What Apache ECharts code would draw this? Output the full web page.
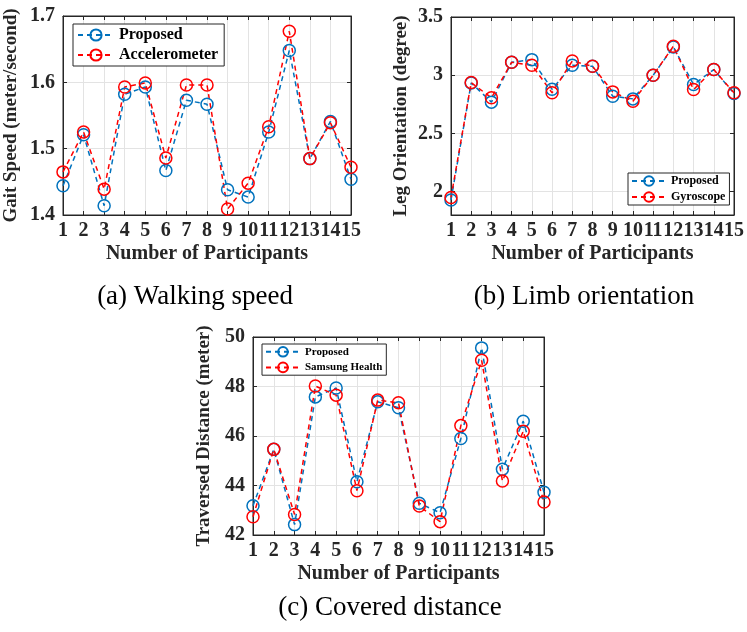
<!DOCTYPE html>
<html>
<head>
<meta charset="utf-8">
<script src="https://cdn.jsdelivr.net/npm/echarts@6/dist/echarts.min.js"></script>
<style>
  html, body { margin: 0; padding: 0; background: #fff; }
  #chart { width: 747px; height: 632px; }
</style>
</head>
<body>
<div id="chart"></div>
<script>
const participants = ['1', '2', '3', '4', '5', '6', '7', '8', '9', '10', '11', '12', '13', '14', '15'];

// (a) walking speed
const speedProposed = [1.444, 1.521, 1.414, 1.582, 1.593, 1.467, 1.573, 1.567, 1.438, 1.427, 1.525, 1.648, 1.485, 1.541, 1.454];
const speedAccel = [1.465, 1.525, 1.439, 1.593, 1.599, 1.486, 1.596, 1.596, 1.409, 1.448, 1.533, 1.677, 1.485, 1.539, 1.472];
const speedTicks = [1.4, 1.5, 1.6, 1.7];

// (b) limb orientation
const orientProposed = [1.929, 2.934, 2.769, 3.111, 3.134, 2.880, 3.086, 3.077, 2.820, 2.797, 3.0, 3.243, 2.920, 3.049, 2.843];
const orientGyro = [1.951, 2.937, 2.806, 3.111, 3.086, 2.849, 3.123, 3.077, 2.857, 2.777, 3.0, 3.249, 2.877, 3.049, 2.849];
const orientTicks = [2, 2.5, 3, 3.5];

// (c) covered distance
const distProposed = [43.18, 45.46, 42.42, 47.58, 47.94, 44.15, 47.38, 47.14, 43.28, 42.90, 45.90, 49.56, 44.66, 46.60, 43.73];
const distSamsung = [42.74, 45.46, 42.83, 48.02, 47.65, 43.79, 47.45, 47.34, 43.17, 42.54, 46.42, 49.06, 44.18, 46.19, 43.33];
const distTicks = [42, 44, 46, 48, 50];

const BLUE = '#0072BD';
const RED = '#FF0000';
const AXIS = '#262626';
const FONT = 'Liberation Serif';

const chart = echarts.init(document.getElementById('chart'));

const grids = [
  { left: 63, top: 16, width: 288, height: 199 },
  { left: 451, top: 17, width: 287, height: 198 },
  { left: 253, top: 337, width: 291, height: 198 }
];

const panels = [
  { ticks: speedTicks, min: 1.4, max: 1.7, name: 'Gait Speed (meter/second)', gap: 42, fmt: (v) => v.toFixed(1) },
  { ticks: orientTicks, min: 1.8, max: 3.5, name: 'Leg Orientation (degree)', gap: 40, fmt: (v) => String(v) },
  { ticks: distTicks, min: 42, max: 50, name: 'Traversed Distance (meter)', gap: 39, fmt: (v) => String(v) }
];

const xAxes = [];
const yAxes = [];
panels.forEach((p, i) => {
  xAxes.push({
    type: 'category', gridIndex: i, data: participants, boundaryGap: false,
    name: 'Number of Participants', nameLocation: 'middle', nameGap: 29,
    nameTextStyle: { fontFamily: FONT, fontWeight: 'bold', fontSize: 20, color: AXIS },
    axisLine: { lineStyle: { color: AXIS } },
    axisTick: { inside: true, length: 4, lineStyle: { color: AXIS } },
    axisLabel: { interval: 0, margin: 6, fontFamily: FONT, fontWeight: 'bold', fontSize: 20, color: AXIS },
    splitLine: { show: true, interval: 0, lineStyle: { color: '#e3e3e3' } }
  });
  xAxes.push({
    type: 'category', gridIndex: i, data: participants, boundaryGap: false, position: 'top',
    axisLine: { lineStyle: { color: AXIS } },
    axisTick: { inside: true, length: 4, interval: 0, lineStyle: { color: AXIS } },
    axisLabel: { show: false }, splitLine: { show: false }
  });
  yAxes.push({
    type: 'value', gridIndex: i, min: p.min, max: p.max,
    name: p.name, nameLocation: 'middle', nameGap: p.gap,
    nameTextStyle: { fontFamily: FONT, fontWeight: 'bold', fontSize: 19, color: AXIS },
    axisLine: { show: true, lineStyle: { color: AXIS } },
    axisTick: { show: true, inside: true, length: 4, customValues: p.ticks, lineStyle: { color: AXIS } },
    axisLabel: { customValues: p.ticks, formatter: p.fmt, margin: 8, fontFamily: FONT, fontWeight: 'bold', fontSize: 20, color: AXIS },
    splitLine: { show: true, lineStyle: { color: '#e3e3e3' } }
  });
  yAxes.push({
    type: 'value', gridIndex: i, min: p.min, max: p.max, position: 'right',
    axisLine: { show: true, lineStyle: { color: AXIS } },
    axisTick: { show: true, inside: true, length: 4, customValues: p.ticks, lineStyle: { color: AXIS } },
    axisLabel: { show: false }, splitLine: { show: false }
  });
});

const mkSeries = (name, data, idx, color) => ({
  name, type: 'line', data,
  xAxisIndex: idx * 2, yAxisIndex: idx * 2,
  symbol: 'circle', symbolSize: 12,
  itemStyle: { color: 'rgba(255,255,255,0)', borderColor: color, borderWidth: 1.5 },
  lineStyle: { color, width: 1.5, type: [5, 4] },
  emphasis: { disabled: true },
  animation: false
});

const legendBase = {
  orient: 'vertical', backgroundColor: '#fff', borderColor: '#262626', borderWidth: 1,
  itemWidth: 34, itemHeight: 12, itemGap: 4,
  textStyle: { fontFamily: FONT, fontWeight: 'bold', color: '#000' }
};

const caption = (text, x, y) => ({
  type: 'text', x, y,
  style: { text, x: 0, y: 0, align: 'center', verticalAlign: 'middle', font: '27px "Liberation Serif"', fill: '#000' }
});

chart.setOption({
  backgroundColor: '#fff',
  animation: false,
  grid: grids.map((g) => Object.assign({ show: true, borderColor: AXIS, borderWidth: 1 }, g)),
  xAxis: xAxes,
  yAxis: yAxes,
  legend: [
    Object.assign({}, legendBase, {
      data: ['Proposed', 'Accelerometer'], left: 73, top: 24, padding: [3, 6, 3, 4],
      itemWidth: 36, itemHeight: 14, textStyle: Object.assign({}, legendBase.textStyle, { fontSize: 16 })
    }),
    Object.assign({}, legendBase, {
      data: ['Proposed ', 'Gyroscope'], left: 628, top: 173, padding: [2, 4, 2, 3],
      textStyle: Object.assign({}, legendBase.textStyle, { fontSize: 12 })
    }),
    Object.assign({}, legendBase, {
      data: ['Proposed  ', 'Samsung Health'], left: 262, top: 344, padding: [2, 4, 2, 3],
      textStyle: Object.assign({}, legendBase.textStyle, { fontSize: 11 })
    })
  ],
  series: [
    mkSeries('Proposed', speedProposed, 0, BLUE),
    mkSeries('Accelerometer', speedAccel, 0, RED),
    mkSeries('Proposed ', orientProposed, 1, BLUE),
    mkSeries('Gyroscope', orientGyro, 1, RED),
    mkSeries('Proposed  ', distProposed, 2, BLUE),
    mkSeries('Samsung Health', distSamsung, 2, RED)
  ],
  graphic: [
    caption('(a) Walking speed', 195, 297),
    caption('(b) Limb orientation', 584, 297),
    caption('(c) Covered distance', 390, 608)
  ]
});
</script>
</body>
</html>
